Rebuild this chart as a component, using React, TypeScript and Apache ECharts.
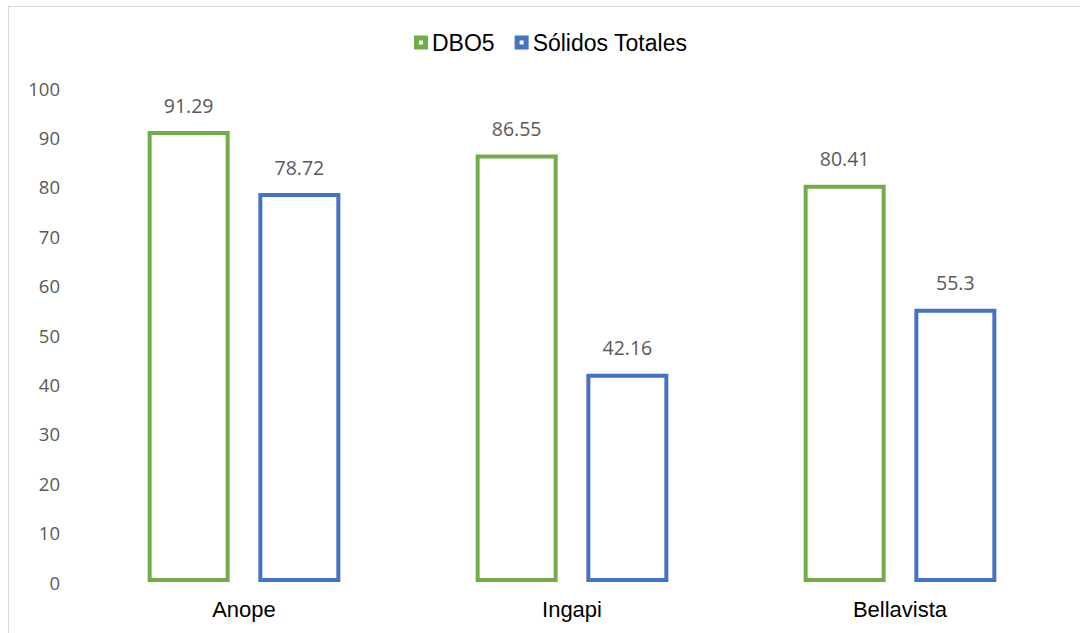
import React, { useEffect, useRef } from "react";
import * as echarts from "echarts";

const categories = ["Anope", "Ingapi", "Bellavista"];
const dbo5 = [91.29, 86.55, 80.41];
const solidos = [78.72, 42.16, 55.3];
const seriesNames = ["DBO5", "Sólidos Totales"];
const seriesColors = ["#70ad47", "#4472c4"];

export default function App() {
  const ref = useRef<HTMLDivElement>(null);
  useEffect(() => {
    const chart = echarts.init(ref.current!, undefined, { renderer: "svg" });
    const font = "Liberation Sans, Arial, sans-serif";
    const numFont = "Open Sans, sans-serif";
    const label = {
      show: true,
      position: "top" as const,
      distance: 16,
      fontSize: 19.5,
      color: "#595959",
      fontFamily: numFont,
    };
    const icon = "path://M0,0H14V14H0Z M5,5V9H9V5Z";
    chart.setOption({
      animation: false,
      legend: {
        top: 26,
        left: 409,
        itemWidth: 14,
        itemHeight: 14,
        itemGap: 20,
        textStyle: { fontSize: 23, color: "#000000", fontFamily: font, padding: [0, 0, 0, -1] },
        data: seriesNames.map((n, i) => ({
          name: n,
          icon,
          itemStyle: { color: seriesColors[i], borderWidth: 0 },
        })),
      },
      grid: { left: 80, right: 16, top: 88, bottom: 51, containLabel: false },
      xAxis: {
        type: "category",
        data: categories,
        axisLine: { show: false },
        axisTick: { show: false },
        axisLabel: { fontSize: 22, color: "#000000", fontFamily: font, margin: 16 },
      },
      yAxis: {
        type: "value",
        min: 0,
        max: 100,
        interval: 10,
        splitLine: { show: false },
        axisLine: { show: false },
        axisTick: { show: false },
        axisLabel: { fontSize: 18.5, color: "#595959", fontFamily: numFont, margin: 20 },
      },
      series: [
        {
          name: seriesNames[0],
          type: "bar",
          data: dbo5,
          barWidth: 82,
          barGap: "35%",
          itemStyle: { color: "#ffffff", borderColor: seriesColors[0], borderWidth: 4 },
          label,
        },
        {
          name: seriesNames[1],
          type: "bar",
          data: solidos,
          barWidth: 82,
          itemStyle: { color: "#ffffff", borderColor: seriesColors[1], borderWidth: 4 },
          label,
        },
      ],
    });
    return () => chart.dispose();
  }, []);
  return (
    <div style={{ position: "fixed", left: 0, top: 0, width: 1080, height: 633, background: "#fff" }}>
      <div ref={ref} style={{ position: "absolute", left: 0, top: 0, width: 1080, height: 633 }} />
      <div
        style={{
          position: "absolute",
          left: 8,
          top: 6,
          right: 0,
          bottom: 0,
          borderLeft: "1px solid #d9d9d9",
          borderTop: "1px solid #d9d9d9",
          pointerEvents: "none",
        }}
      />
    </div>
  );
}
